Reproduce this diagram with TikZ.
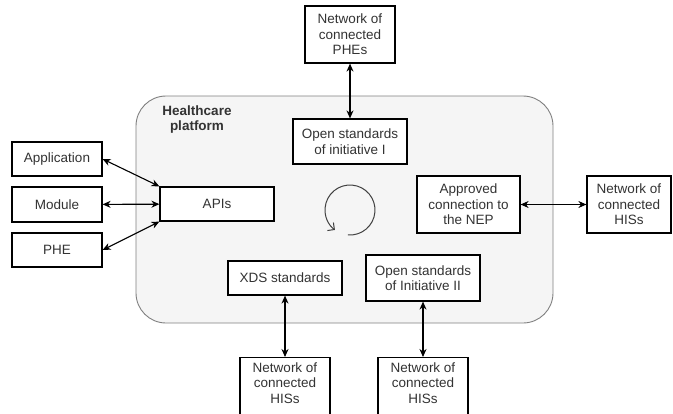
\documentclass[tikz,border=0pt]{standalone}
\usepackage{fontspec}
\setmainfont{Liberation Sans}
\usepackage{xcolor}
\usetikzlibrary{arrows.meta}

\definecolor{platformfill}{HTML}{F5F5F5}
\definecolor{platformline}{HTML}{808080}
\definecolor{textgray}{HTML}{333333}

\begin{document}
\begin{tikzpicture}[x=1pt,y=-1pt,
    box/.style={draw=black, line width=1.2pt, fill=white, align=center,
        text=textgray, inner sep=0pt, font=\fontsize{13.5}{15.5}\selectfont},
    cutbox/.style={box, anchor=north, inner ysep=5pt, text depth=22pt},
    link/.style={{Stealth[length=8pt,width=7pt]}-{Stealth[length=8pt,width=7pt]},
        line width=1.1pt}]

\useasboundingbox (0,0) rectangle (673,413);
\clip (0,0) rectangle (673,413);

\coordinate (spin) at (350,210);

\draw[fill=platformfill, draw=platformline, line width=0.9pt, rounded corners=30pt]
    (136,96) rectangle (553,323);
\node[text=textgray, align=center, font=\bfseries\fontsize{13.5}{15}\selectfont]
    (title) at (197,119.5) {Healthcare\\platform};

\node[box, minimum width=90pt, minimum height=57pt] (phes) at (350,34.5) {Network of\\connected\\PHEs};
\node[box, minimum width=114pt, minimum height=45pt] (init1) at (350,141.5) {Open standards\\of initiative I};

\node[box, minimum width=90pt, minimum height=34pt] (app) at (57,159) {Application};
\node[box, minimum width=90pt, minimum height=35pt] (mod) at (57,204.5) {Module};
\node[box, minimum width=90pt, minimum height=34pt] (phe) at (57,250) {PHE};
\node[box, minimum width=114pt, minimum height=34pt] (apis) at (217,204) {APIs};

\node[box, minimum width=103pt, minimum height=57pt] (nep) at (468.5,204.5) {Approved\\connection to\\the NEP};
\node[box, minimum width=84pt, minimum height=57pt] (hisr) at (629,204.5) {Network of\\connected\\HISs};

\node[box, minimum width=114pt, minimum height=34pt] (xds) at (285,278) {XDS standards};
\node[box, minimum width=114pt, minimum height=46pt] (init2) at (423,278) {Open standards\\of Initiative II};
\node[cutbox, minimum width=90pt] (hisa) at (285,357) {Network of\\connected\\HISs};
\node[cutbox, minimum width=90pt] (hisb) at (423,357) {Network of\\connected\\HISs};

% cycle mark
\draw[draw=black!75, line width=1pt, -{Straight Barb[length=5pt,width=10pt]}]
    (spin) ++(95:25) arc[start angle=95, end angle=-233, radius=25];

\draw[link] (app.east) -- (apis.north west);
\draw[link] (phe.east) -- (apis.south west);
\foreach \a/\b in {phes/init1, mod/apis, nep/hisr, xds/hisa, init2/hisb} {
    \draw[link] (\a) -- (\b);
}

\end{tikzpicture}
\end{document}
